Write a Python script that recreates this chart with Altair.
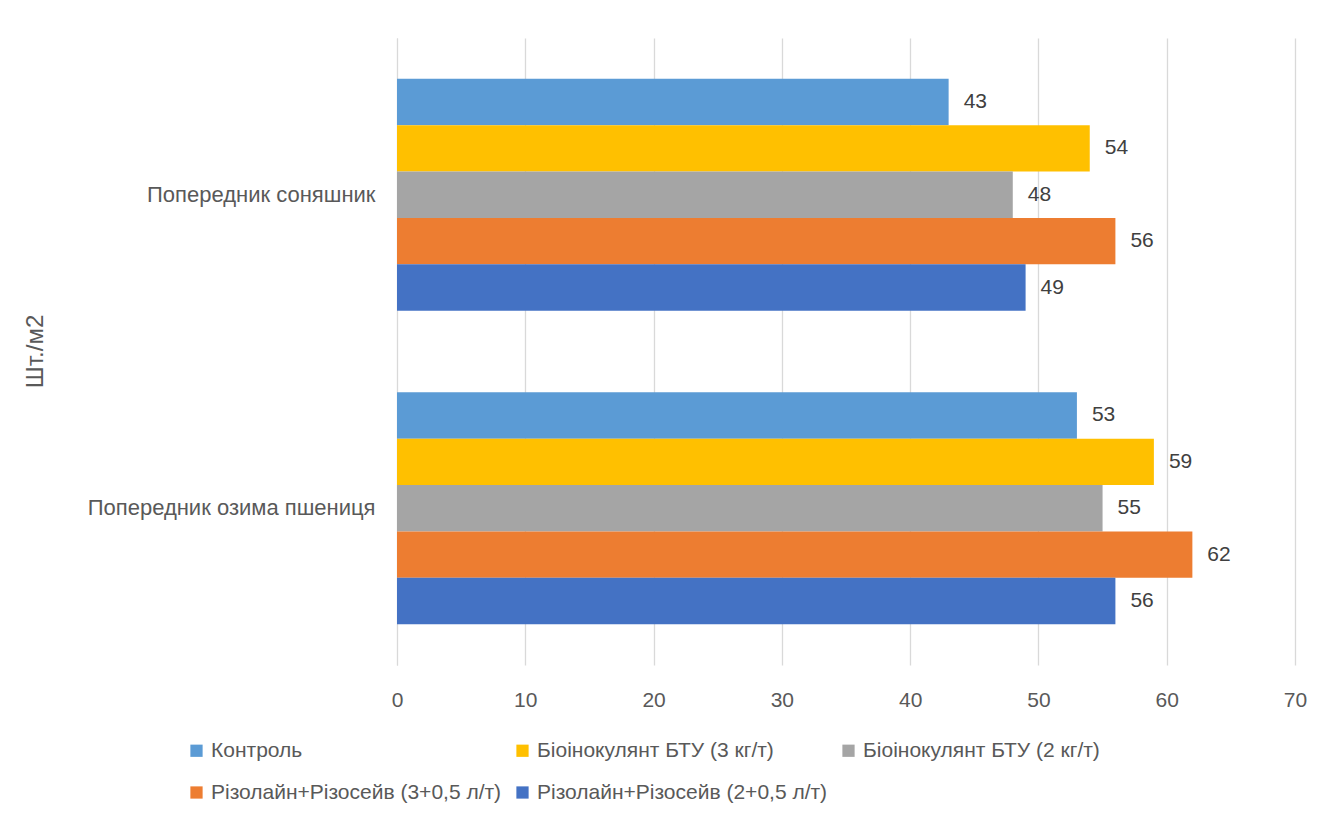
import altair as alt
import pandas as pd

categories = ["Попередник соняшник", "Попередник озима пшениця"]
series = [
    "Контроль",
    "Біоінокулянт БТУ (3 кг/т)",
    "Біоінокулянт БТУ (2 кг/т)",
    "Різолайн+Різосейв (3+0,5 л/т)",
    "Різолайн+Різосейв (2+0,5 л/т)",
]
colors = ["#5B9BD5", "#FFC000", "#A5A5A5", "#ED7D31", "#4472C4"]
values_sunflower = [43, 54, 48, 56, 49]
values_wheat = [53, 59, 55, 62, 56]

rows = []
for s, v in zip(series, values_sunflower):
    rows.append({"cat": categories[0], "series": s, "value": v})
for s, v in zip(series, values_wheat):
    rows.append({"cat": categories[1], "series": s, "value": v})
df = pd.DataFrame(rows)

FONT = "Liberation Sans"
TXT = "#595959"
FS = 21

y_enc = alt.Y(
    "cat:N",
    sort=categories,
    scale=alt.Scale(paddingInner=0.26, paddingOuter=0.13),
    axis=alt.Axis(
        title="Шт./м2",
        titleFont=FONT,
        titleFontSize=24,
        titleFontWeight="normal",
        titleColor=TXT,
        titleX=-362,
        titleY=313,
        titleAngle=270,
        titleAlign="center",
        titleBaseline="middle",
        labelFont=FONT,
        labelFontSize=22,
        labelColor=TXT,
        labelPadding=22,
        labelLimit=500,
        ticks=False,
        domain=True,
        domainColor="#D9D9D9",
        grid=False,
    ),
)
yoff = alt.YOffset("series:N", sort=series, scale=alt.Scale(paddingInner=0, paddingOuter=0))
x_enc = alt.X(
    "value:Q",
    scale=alt.Scale(domain=[0, 70]),
    axis=alt.Axis(
        title=None,
        values=[0, 10, 20, 30, 40, 50, 60, 70],
        labelFont=FONT,
        labelFontSize=FS,
        labelColor=TXT,
        labelPadding=24,
        labelFlush=False,
        ticks=False,
        domain=False,
        grid=True,
        gridColor="#D9D9D9",
        gridWidth=1.3,
    ),
)

bars = alt.Chart(df).mark_bar().encode(
    x=x_enc,
    y=y_enc,
    yOffset=yoff,
    color=alt.Color(
        "series:N",
        sort=series,
        scale=alt.Scale(domain=series, range=colors),
        legend=alt.Legend(
            title=None,
            orient="none",
            legendX=-211,
            legendY=702,
            direction="horizontal",
            columns=3,
            symbolType="square",
            symbolSize=150,
            symbolStrokeWidth=0,
            labelFont=FONT,
            labelFontSize=FS,
            labelColor=TXT,
            labelLimit=500,
            columnPadding=10,
            rowPadding=20,
        ),
    ),
)

labels = alt.Chart(df).mark_text(
    align="left", baseline="middle", dx=15, font=FONT, fontSize=FS, color="#404040"
).encode(
    x=alt.X("value:Q"),
    y=alt.Y("cat:N", sort=categories),
    yOffset=alt.YOffset("series:N", sort=series),
    text=alt.Text("value:Q"),
)

chart = (
    alt.layer(bars, labels)
    .properties(
        width=898,
        height=627,
        autosize=alt.AutoSizeParams(type="none"),
        padding={"left": 397, "top": 38, "right": 30, "bottom": 162},
        background="white",
    )
    .configure_view(stroke=None)
)

chart.save("out.html", embed_options={"renderer": "svg", "actions": False})
